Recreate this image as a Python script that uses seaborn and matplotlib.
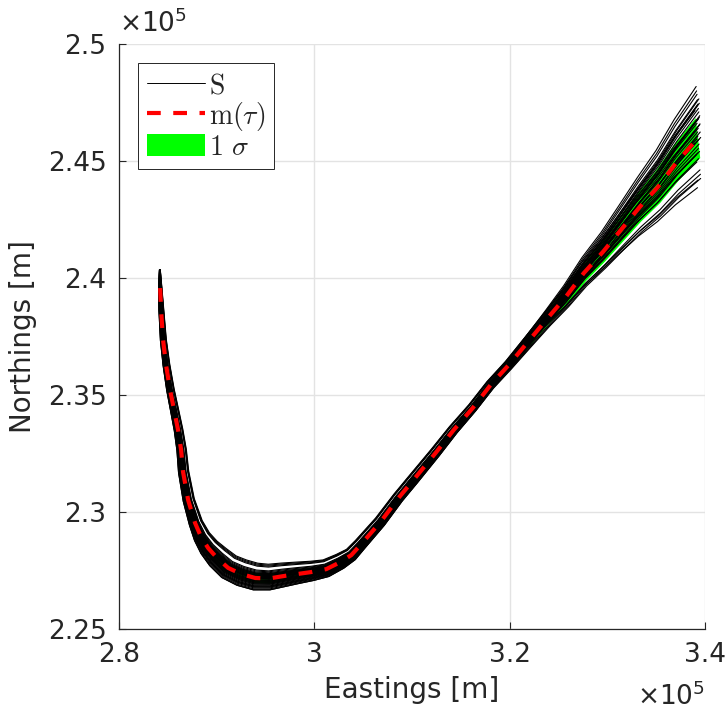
import numpy as np
import pandas as pd
import matplotlib
matplotlib.use('Agg')
import matplotlib.pyplot as plt
import seaborn as sns
from matplotlib.lines import Line2D
from matplotlib.patches import Patch

# mean track (units of 1e5 m); first point = tip of the ensemble
east = [2.8418, 2.8421, 2.8431, 2.8451, 2.8482, 2.8523, 2.8564, 2.8605, 2.8636, 2.8656,
        2.8708, 2.8779, 2.8841, 2.8913, 2.9005, 2.9118, 2.9251, 2.9395, 2.9538, 2.9682,
        2.9826, 2.9979, 3.0123, 3.0267, 3.0379, 3.0472, 3.0677, 3.0862, 3.1015, 3.1241,
        3.1426, 3.1621, 3.1805, 3.1990, 3.2185, 3.2390, 3.2574, 3.2759, 3.2954, 3.3138,
        3.3323, 3.3518, 3.3703, 3.3928]
north = [2.4035, 2.3957, 2.3863, 2.3735, 2.3628, 2.3521, 2.3436, 2.3350, 2.3265, 2.3171,
         2.3051, 2.2953, 2.2893, 2.2846, 2.2803, 2.2761, 2.2735, 2.2718, 2.2716, 2.2726,
         2.2735, 2.2744, 2.2756, 2.2786, 2.2816, 2.2859, 2.2957, 2.3060, 2.3137, 2.3252,
         2.3350, 2.3444, 2.3543, 2.3628, 2.3726, 2.3829, 2.3919, 2.4021, 2.4111, 2.4205,
         2.4299, 2.4389, 2.4491, 2.4598]

# spread of the ensemble along the track (relative weights)
w_bend = [0.03, 0.12, 0.18, 0.22, 0.25, 0.28, 0.3, 0.32, 0.35, 0.38,
          0.42, 0.5, 0.62, 0.75, 0.88, 0.96, 1.0, 1.0, 0.95, 0.88,
          0.8, 0.72, 0.65, 0.58, 0.5, 0.45, 0.42, 0.4, 0.4, 0.38,
          0.36, 0.34, 0.32, 0.3, 0.3, 0.3, 0.3, 0.3, 0.3, 0.3,
          0.3, 0.3, 0.3, 0.3]
w_end = [0] * 32 + [0.02, 0.04, 0.08, 0.13, 0.2, 0.28, 0.36, 0.46, 0.57, 0.7, 0.84, 1.0]

# member offsets (pixels) at the bottom bend and at the north-east end
off_bend = [15, 14, 13, 12, 8, 6, 5, 4, 3, 2, 1, 0, -1, -2, -3, -4, -5, -6, -7, -8,
            -9, -10, -11, -12, -12, 0, 2, -3, -5, 4, -6, 7, -8, 1, -2, 3, -9, 5, -4, 0]
off_end = [12, -8, 25, 5, 50, 46, -2, 43, 18, 38, -15, 34, 10, 30, -20, 27, 0, 22, -12, 15,
           -30, 8, -34, 3, -38, -42, -50, 20, -5, 14, 36, -18, 24, 6, -10, 32, 16, -25, 40, 2]

# 1 sigma band half width (pixels)
sig_perp = [0, 1.5, 1.5, 1.5, 1.5, 1.5, 1.5, 1.5, 1.5, 1.5,
            1.5, 2.5, 3, 4, 4.5, 5, 5, 5, 5, 4.5,
            4.5, 4, 4, 3.5, 3.5] + [3] * 19
sig_vert = [0] * 33 + [1, 2, 3, 4.5, 6, 7.5, 9.5, 11.5, 14, 16, 18]

# pixels per unit on each axis
sx, sy = 975.0, 2340.0

e = np.array(east)
n = np.array(north)
tx = np.gradient(e * sx)
ty = np.gradient(n * sy)
norm = np.hypot(tx, ty)
nx, ny = -ty / norm, tx / norm

rows = []
for k in range(len(off_bend)):
    d = off_bend[k] * np.array(w_bend)
    xs = e + d * nx / sx
    ys = n + d * ny / sy + off_end[k] * np.array(w_end) / sy
    for i in range(len(e)):
        rows.append((k, xs[i], ys[i]))
df = pd.DataFrame(rows, columns=['member', 'east', 'north'])

sns.set_style('whitegrid')
plt.rcParams['font.family'] = ['DejaVu Sans']

fig = plt.figure(figsize=(7.27, 7.12), dpi=100)
ax = fig.add_axes([119 / 727, 1 - 629 / 712, 586 / 727, 585 / 712])

sp = np.array(sig_perp)
sv = np.array(sig_vert)
up_x = e + sp * nx / sx
up_y = n + sp * ny / sy + sv / sy
lo_x = e - sp * nx / sx
lo_y = n - sp * ny / sy - sv / sy
ax.fill(np.concatenate([up_x, lo_x[::-1]]), np.concatenate([up_y, lo_y[::-1]]),
        color='#00ff00', lw=0, zorder=1.5)

sns.lineplot(data=df, x='east', y='north', units='member', estimator=None, sort=False,
             color='black', lw=0.8, ax=ax, legend=False)
sns.lineplot(x=east[1:], y=north[1:], sort=False, color='red', lw=3, ax=ax)
ax.lines[-1].set_dashes([3.3, 3.0])
ax.lines[-1].set_zorder(3)

ax.set_xlim(2.8, 3.4)
ax.set_ylim(2.25, 2.5)
ax.set_xticks([2.8, 3.0, 3.2, 3.4])
ax.set_xticklabels(['2.8', '3', '3.2', '3.4'])
ax.set_yticks([2.25, 2.3, 2.35, 2.4, 2.45, 2.5])
ax.set_yticklabels(['2.25', '2.3', '2.35', '2.4', '2.45', '2.5'])
ax.tick_params(axis='both', direction='in', length=5, width=0.8, color='#262626',
               labelcolor='#262626', labelsize=19, pad=9, bottom=True, left=True)
ax.grid(True, color='#e3e3e3', lw=1)
for s in ['top', 'right']:
    ax.spines[s].set_visible(False)
for s in ['left', 'bottom']:
    ax.spines[s].set_color('#262626')
    ax.spines[s].set_linewidth(0.9)

ax.set_xlabel('Eastings [m]', fontsize=20, color='#262626', labelpad=6)
ax.set_ylabel('Northings [m]', fontsize=20, color='#262626', labelpad=8)
ax.text(0.0, 1.01, r'$\times10^5$', transform=ax.transAxes, ha='left', va='bottom',
        fontsize=19, color='#262626')
ax.text(1.0, -0.092, r'$\times10^5$', transform=ax.transAxes, ha='right', va='top',
        fontsize=19, color='#262626')

handles = [Line2D([], [], color='black', lw=0.7),
           Line2D([], [], color='red', lw=3, dashes=[3.3, 3.0]),
           Patch(facecolor='#00ff00', edgecolor='none')]
leg = ax.legend(handles, [r'$\mathrm{S}$', r'$\mathrm{m}(\tau)$', r'$1\ \sigma$'],
                loc='upper left', prop={'size': 20, 'math_fontfamily': 'cm'},
                frameon=True, fancybox=False, framealpha=1, borderaxespad=0.7,
                handlelength=2.1, handleheight=0.85, handletextpad=0.15,
                labelspacing=0.0, borderpad=0.3)
leg.get_frame().set_edgecolor('#262626')
leg.get_frame().set_linewidth(0.7)

fig.savefig('out.png', dpi=100)
